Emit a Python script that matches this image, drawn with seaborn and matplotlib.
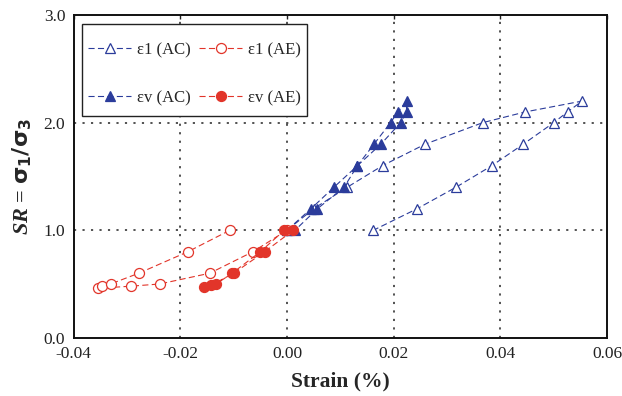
import matplotlib
matplotlib.use("Agg")
import matplotlib.pyplot as plt
import seaborn as sns
from matplotlib.patches import Rectangle
from matplotlib.ticker import FormatStrFormatter

# Stress ratio / strain paths (loading then unloading)
sr_ac = [1.0, 1.2, 1.4, 1.6, 1.8, 2.0, 2.1, 2.2, 2.1, 2.0, 1.8, 1.6, 1.4, 1.2, 1.0]
e1_ac = [0.0, 0.0050, 0.0113, 0.0179, 0.0259, 0.0367, 0.0447, 0.0553,
         0.0526, 0.0500, 0.0443, 0.0384, 0.0317, 0.0244, 0.0162]
ev_ac = [0.0, 0.0045, 0.0088, 0.0132, 0.0163, 0.0194, 0.0208, 0.0224,
         0.0224, 0.0213, 0.0176, 0.0132, 0.0107, 0.0057, 0.0015]

sr_ae1 = [1.0, 0.8, 0.6, 0.5, 0.48, 0.46, 0.48, 0.5, 0.6, 0.8, 1.0]
e1_ae = [0.0, -0.0064, -0.0145, -0.0239, -0.0292, -0.0355, -0.0347,
         -0.0331, -0.0278, -0.0186, -0.0107]
sr_aev = [1.0, 0.8, 0.6, 0.5, 0.47, 0.49, 0.6, 0.8, 1.0]
ev_ae = [-0.0005, -0.0050, -0.0103, -0.0133, -0.0155, -0.0142, -0.0100,
         -0.0042, 0.0012]

x_ticks = [-0.04, -0.02, 0.00, 0.02, 0.04, 0.06]
y_ticks = [0.0, 1.0, 2.0, 3.0]

blue = "#2B3C9B"
red = "#E2352A"
dash = (0, (5.5, 3))

sns.set_theme(style="white")
plt.rcParams["font.family"] = ["Liberation Serif", "DejaVu Serif"]
plt.rcParams["mathtext.fontset"] = "custom"
plt.rcParams["mathtext.it"] = "Liberation Serif:italic:bold"
plt.rcParams["mathtext.bf"] = "DejaVu Sans:bold"
plt.rcParams["mathtext.rm"] = "Liberation Serif:bold"

fig = plt.figure(figsize=(6.22, 3.96), dpi=100)
ax = fig.add_axes([0.1185, 0.147, 0.976 - 0.1185, 0.962 - 0.147])

common = dict(ax=ax, sort=False, estimator=None, linewidth=0.8,
              markersize=7.2, markeredgewidth=0.9)

sns.lineplot(x=e1_ac, y=sr_ac, color=blue, marker="^", markerfacecolor="white",
             markeredgecolor=blue, label="ε1 (AC)", **common)
sns.lineplot(x=ev_ac, y=sr_ac, color=blue, marker="^", markerfacecolor=blue,
             markeredgecolor=blue, label="εv (AC)", **common)
sns.lineplot(x=e1_ae, y=sr_ae1, color=red, marker="o", markerfacecolor="white",
             markeredgecolor=red, label="ε1 (AE)", **common)
sns.lineplot(x=ev_ae, y=sr_aev, color=red, marker="o", markerfacecolor=red,
             markeredgecolor=red, label="εv (AE)", **common)

for line in ax.get_lines():
    line.set_linestyle(dash)

ax.set_xlim(-0.04, 0.06)
ax.set_ylim(0, 3.0)
ax.set_xticks(x_ticks)
ax.set_yticks(y_ticks)
ax.xaxis.set_major_formatter(FormatStrFormatter("%.2f"))
ax.yaxis.set_major_formatter(FormatStrFormatter("%.1f"))
ax.tick_params(direction="in", length=3, width=1, top=True, right=False,
               labelsize=12.5, colors="#222222", pad=6)

# inner dotted grid
for xv in x_ticks[1:-1]:
    ax.axvline(xv, color="#444444", linestyle=(0, (1.2, 3.5)), linewidth=1.3, zorder=0)
for yv in y_ticks[1:-1]:
    ax.axhline(yv, color="#444444", linestyle=(0, (1.2, 3.5)), linewidth=1.3, zorder=0)

for s in ax.spines.values():
    s.set_color("#111111")
    s.set_linewidth(1.4)

ax.set_xlabel("Strain (%)", fontsize=15.5, fontweight="bold", labelpad=7)
ax.set_ylabel(r"$SR$ = $\mathbf{\sigma_{1}/\sigma_{3}}$", fontsize=16,
              fontweight="bold", labelpad=7)

# legend box drawn as a separate frame so the entries can sit with generous
# vertical padding
ax.add_patch(Rectangle((0.0156, 0.687), 0.4218, 0.2851, transform=ax.transAxes,
                       facecolor="white", edgecolor="#222222", linewidth=1.0,
                       zorder=4))

handles, labels = ax.get_legend_handles_labels()
order = ["ε1 (AC)", "εv (AC)", "ε1 (AE)", "εv (AE)"]
hmap = dict(zip(labels, handles))
leg = ax.legend([hmap[k] for k in order], order, ncol=2, loc="upper left",
                bbox_to_anchor=(0.0268, 0.9166), borderaxespad=0,
                fontsize=12, frameon=False, labelspacing=1.92,
                handlelength=2.6, columnspacing=0.48, handletextpad=0.36,
                borderpad=0)
leg.set_zorder(5)
for h in leg.legend_handles:
    h.set_linestyle(dash)

fig.savefig("out.png", dpi=100)
